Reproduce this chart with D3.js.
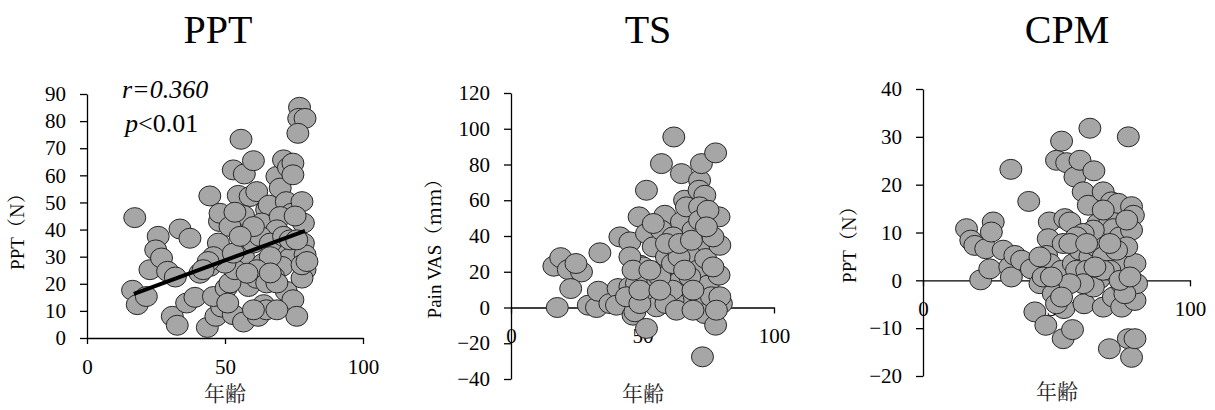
<!DOCTYPE html>
<html>
<head>
<meta charset="utf-8">
<script src="https://cdn.jsdelivr.net/npm/d3@7.9.0/dist/d3.min.js"></script>
</head>
<body style="margin:0;background:#fff">
<svg width="1215" height="410"></svg>
<script>
const SERIF = 'Liberation Serif';
const CJK = 'Noto Serif CJK JP';

// panel titles
const titles = ['PPT', 'TS', 'CPM'];
const xLabel = '年齢';
const yLabels = [['PPT', '（N）'], ['Pain VAS', '（mm）'], ['PPT', '（N）']];

// x ticks shared by all panels
const xTicks = [0, 50, 100];
const pptTicks = [0, 10, 20, 30, 40, 50, 60, 70, 80, 90];
const tsTicks = [-40, -20, 0, 20, 40, 60, 80, 100, 120];
const cpmTicks = [-20, -10, 0, 10, 20, 30, 40];

// PPT panel: age vs PPT (N)
const pptAge = [17.3, 16.5, 18.2, 21.5, 22.8, 25.8, 24.9, 27, 29.2, 32, 33.7, 30.9, 32.7, 36.1, 39.1, 37.3,
  40.9, 44.5, 43.6, 46.7, 48.8, 45.8, 48, 48.2, 47.6, 44.5, 50.4, 53, 53, 55.8, 57, 60.3, 54.8, 59.1, 61.5,
  56.7, 55.5, 56.7, 58.5, 56.7, 62, 64, 65, 61.5, 63.9, 65.1, 66, 63.3, 68.8, 70, 71.2, 73, 74.6, 74.6, 72.2,
  74.2, 70, 68.8, 71.8, 73.6, 70.6, 67.6, 72.2, 74.6, 76, 68.8, 77, 76.7, 79, 76.4, 77.9, 78.4, 78.4, 79, 79,
  77.9, 77.9, 79.7, 51.8, 53.6, 50, 45.8, 43.9, 42.1, 53, 60.3, 62.7, 66.4, 66.4, 61.5, 58, 65.1, 68.8, 51.8,
  53.6, 60.3, 55.5, 51, 60.3, 66.4, 71.2, 73.6, 76, 75.4];
const pptVal = [44.4, 17.6, 12.3, 15.3, 25.2, 37.5, 32.5, 29.5, 24.6, 22.5, 40.2, 8, 4.7, 12.9, 15, 36.8,
  23.9, 52.4, 3.9, 8, 11.4, 15.3, 43, 46, 35, 26.4, 18.4, 8.6, 62, 73.3, 60.5, 65.4, 52.6, 52.2, 54,
  45.2, 28.2, 30, 19, 5.9, 8, 12.3, 10.4, 22, 27.6, 47.3, 49, 42.4, 59.6, 55.3, 65.7, 62.9, 64.5, 60.2, 50.3,
  46, 44.8, 39.9, 32.5, 29.5, 26.4, 22.7, 17.2, 14.1, 8, 10.4, 85.1, 81, 81, 75.5, 50.3, 42.4, 35, 30.7, 25.2,
  22.1, 27, 28.2, 20.3, 25.2, 27.6, 30, 28.2, 25.2, 31.3, 35, 37.5, 35, 30, 25.2, 23.9, 20.3, 20.3, 41.1,
  46.4, 41.1, 37.5, 12.9, 10.4, 24, 37.5, 36.2, 36.2, 45];
// fitted line end points
const trendAge = [17, 79];
const trendVal = [16.3, 39.5];
const stats = ['r=0.360', '<0.01'];

// TS panel: age vs pain VAS (mm)
const tsAge = [17.6, 16.3, 18.9, 21.8, 26.8, 24.7, 22.7, 33.8, 29.4, 32.5, 33.2, 37.6, 40.7, 41.4, 45.2, 40.1,
  45.2, 46.4, 47.1, 51.5, 48.7, 51.5, 49, 50.2, 52.8, 55.3, 51.5, 54.1, 57.2, 58.5, 57.2, 57.2, 59.1, 61.9,
  64.8, 64.8, 63.9, 65.4, 61.6, 61.6, 66, 68, 69.2, 66.7, 71.1, 71.7, 72.4, 71.5, 73.7, 71.7, 71.7, 71.1, 72.4,
  73.7, 72.8, 74, 74, 74.9, 76.2, 77.8, 79.1, 79.4, 77.8, 79.1, 80, 79.4, 76.8, 68, 61.4, 58.9, 54.1, 56.6,
  47.7, 43.9, 49, 61.4, 63.9, 54.1, 59.1, 64.1, 69.2, 62.9, 69.2, 78.1, 76.8, 68.6, 74.9, 74.3, 66, 49, 45.2,
  46.4, 52.8, 56.6];
const tsVal = [0, 23.1, 27.9, 21.2, 19.9, 24.6, 10.6, 30.6, 1.3, 0, 9.1, 2.2, 10.6, 39.5, 36.7, 1.3,
  11.6, -4.3, -2.4, -11.7, 50.7, 65.6, 23.7, 22.7, 5, 0.4, 41.4, 33.9, 80.5, 51.6, 43.2, 20.9, 28.3, 95.4,
  74.9, 47.9, 14.3, 2.2, 39.5, 4.1, 60, 30.2, 43.2, 56.3, 20.9, 71.2, 80.5, 65.6, 62.8, 56.3, 48.8, 10.6, 4.1,
  -3.4, -27.6, 36.7, 27.4, 12.5, 6, 86.5, 50.7, 34.8, -9.9, 18.1, 2.2, 6, 22.7, 17.1, 9.7, 2.2, 13.4, 17.1,
  13.4, 6, 2.2, 24.6, 28.3, 47, 35.8, 35.8, 9.7, -1.5, -1.5, -1.5, 39.5, 37.6, 54.4, 45.1, 20.9, 9.7, 28.3,
  20.9, 20.9, 9.7];

// CPM panel: age vs PPT change (N)
const cpmAge = [16.3, 17.9, 19.4, 23.5, 21.6, 25, 26.3, 25.6, 30, 32.5, 33.1, 32.9, 34.4, 36.9, 39.6, 40.6,
  41.9, 43.8, 46, 47.3, 46.9, 46.3, 47.5, 48.8, 50, 51.9, 53.1, 53.8, 52.5, 52.8, 52.5, 51.9, 55, 56.3, 56,
  56.9, 58.8, 58.8, 60, 60.3, 62.5, 61.9, 64, 62.5, 65, 65.6, 66, 67.5, 67.5, 70, 69.8, 70.6, 71.3, 71.3, 73.1,
  73.8, 74.4, 74.4, 74.4, 76.9, 76.9, 78.1, 79.4, 78.1, 78.8, 78.1, 79.4, 79.4, 80, 76.3, 75.6, 57.5, 61.3,
  63.8, 60, 55, 45, 43.8, 67.5, 70, 67.5, 72.5, 67.5, 63.8, 60, 57.5, 55, 61.3, 70, 76.3, 48.1, 50, 51.9, 64.4,
  73.8, 77.5];
const cpmVal = [10.8, 8.4, 7.3, 6.6, 0.1, 2.4, 12.2, 10.1, 6.3, 2.8, 0.7, 23.2, 5.2, 4.2, 16.5, 2.4,
  -6.6, -0.7, -9.4, 12.2, 8.7, 5.2, 3.5, -2.8, 25.1, 29.1, 12.9, 24.6, -12.2, -5.9, 7.7, 2.1, 12.2, 3.5, -10.3,
  21.6, 25.1, 6.3, 18.5, -4.9, 31.8, 15.7, 22.9, 4.9, 7, 11.9, 0.3, -5.6, 18.5, 12.6, -14.3, 16.4, 10.8, -3.5, 16.1,
  9.1, 3.5, -0.7, -5.6, 30, -12.2, -16.1, -12.2, 15.4, 13.6, 10.5, 3.5, -4.2, -0.7, 7, -2.8, 2.1, 2.1,
  -1.4, -0.7, -0.7, 0.7, 4.9, 4.9, 2.1, 2.1, 6.3, 14.7, 10.5, 9.8, 9.1, 7.7, 7.7, 7.7, 12.6, 0.7, -4.9, -3.5, 2.8,
  0, 0.7];

const svg = d3.select('svg').attr('font-family', SERIF);

const panels = [
  { title: titles[0], cx: 218, yLabel: yLabels[0], xs: pptAge, ys: pptVal, ticks: pptTicks,
    xRange: [87, 363], yRange: [338, 94], yDomain: [0, 90], ylx: 24, yly: 227, xlx: 225, xly: 401 },
  { title: titles[1], cx: 648, yLabel: yLabels[1], xs: tsAge, ys: tsVal, ticks: tsTicks,
    xRange: [511, 774], yRange: [379, 93], yDomain: [-40, 120], ylx: 441, yly: 244, xlx: 643, xly: 401 },
  { title: titles[2], cx: 1067, yLabel: yLabels[2], xs: cpmAge, ys: cpmVal, ticks: cpmTicks,
    xRange: [923, 1190], yRange: [376, 89], yDomain: [-20, 40], ylx: 856, yly: 240, xlx: 1057, xly: 399 },
];

panels.forEach((p, i) => {
  let x = d3.scaleLinear().domain([0, 100]).range(p.xRange);
  let y = d3.scaleLinear().domain(p.yDomain).range(p.yRange);
  let g = svg.append('g');

  g.append('text')
    .attr('x', p.cx).attr('y', 43)
    .attr('text-anchor', 'middle')
    .attr('font-family', SERIF)
    .attr('font-size', 40)
    .text(p.title);

  // y axis
  let ya = g.append('g')
    .attr('transform', `translate(${x(0)},0)`)
    .call(d3.axisLeft(y).tickValues(p.ticks).tickSize(7).tickSizeOuter(0).tickPadding(14).tickFormat(d3.format('d')));
  // x axis sits at y = 0
  let xa = g.append('g')
    .attr('transform', `translate(0,${y(0)})`)
    .call(d3.axisBottom(x).tickValues(xTicks).tickSize(6).tickSizeOuter(0).tickPadding(15));
  [ya, xa].forEach((a) => {
    a.attr('font-family', SERIF).attr('font-size', 21);
    a.selectAll('path, line').attr('stroke', '#000').attr('stroke-width', 1.3);
    a.selectAll('text').attr('fill', '#000');
  });

  let yl = g.append('text')
    .attr('transform', `translate(${p.ylx},${p.yly}) rotate(-90)`)
    .attr('text-anchor', 'middle')
    .attr('font-family', SERIF)
    .attr('font-size', 19);
  yl.append('tspan').text(p.yLabel[0]);
  yl.append('tspan').attr('font-family', CJK).text(p.yLabel[1]);

  g.append('text')
    .attr('x', p.xlx).attr('y', p.xly)
    .attr('text-anchor', 'middle')
    .attr('font-family', CJK)
    .attr('font-size', 21)
    .attr('fill', '#222')
    .text(xLabel);

  g.selectAll('ellipse')
    .data(p.xs.map((d, k) => [d, p.ys[k]]))
    .join('ellipse')
    .attr('cx', (d) => x(d[0]))
    .attr('cy', (d) => y(d[1]))
    .attr('rx', 11)
    .attr('ry', 10)
    .attr('fill', '#a6a6a6')
    .attr('stroke', '#262626')
    .attr('stroke-width', 1);

  if (i === 0) {
    g.append('line')
      .attr('x1', x(trendAge[0])).attr('y1', y(trendVal[0]))
      .attr('x2', x(trendAge[1])).attr('y2', y(trendVal[1]))
      .attr('stroke', '#000').attr('stroke-width', 4);

    g.append('text')
      .attr('x', 122).attr('y', 98)
      .attr('font-family', SERIF)
      .attr('font-size', 26).attr('font-style', 'italic')
      .text(stats[0]);
    let t = g.append('text').attr('x', 125).attr('y', 132)
      .attr('font-family', SERIF).attr('font-size', 26);
    t.append('tspan').attr('font-style', 'italic').text('p');
    t.append('tspan').text(stats[1]);
  }
});
</script>
</body>
</html>
